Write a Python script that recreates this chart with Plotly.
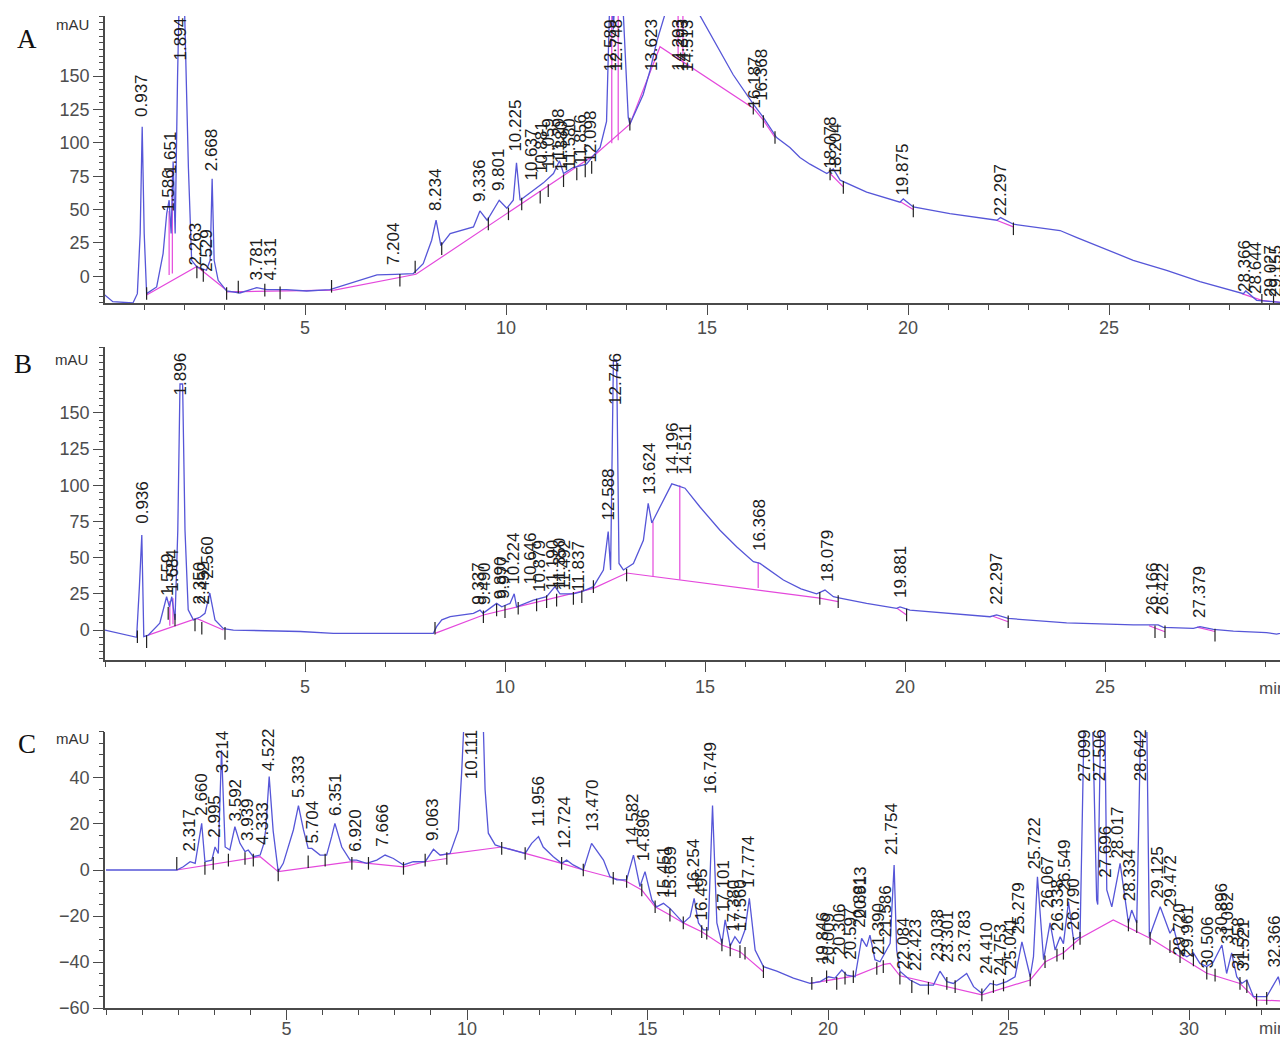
import plotly.graph_objects as go

# ---------------- Panel A ----------------
a_time = [0.02, 0.22, 0.72, 0.83, 0.90, 0.95, 1.00, 1.06, 1.31, 1.47, 1.56, 1.62, 1.67, 1.72, 1.77, 1.83, 1.90, 2.00,
          2.10, 2.18, 2.31, 2.43, 2.55, 2.64, 2.69, 2.74, 2.84, 3.05, 3.38, 3.80, 4.05, 4.54, 5.04, 5.62, 6.29, 6.79,
          7.24, 7.69, 7.94, 8.15, 8.26, 8.38, 8.61, 9.19, 9.35, 9.53, 9.83, 10.02, 10.18, 10.26, 10.35, 10.68, 10.93,
          11.18, 11.33, 11.43, 11.67, 12.00, 12.34, 12.50, 12.56, 12.60, 12.67, 12.75, 12.92, 13.04, 13.08, 13.41,
          13.58, 13.75, 13.95, 14.30, 14.83, 15.32, 15.65, 16.15, 16.40, 16.73, 17.06, 17.31, 17.56, 17.98, 18.14,
          18.31, 18.97, 19.80, 19.88, 20.13, 21.04, 22.21, 22.30, 22.62, 23.78, 24.20, 25.60, 26.43, 27.26, 28.34,
          28.40, 28.67, 29.09, 29.45]
a_mau = [-14, -19, -20, -13, 32, 112, 32, -13, -8, 17, 47, 57, 32, 86, 32, 150, 250, 205,
         81, 12, 7, 6, 4.5, 12, 73, 12, -3, -11, -12.5, -8.5, -10, -10, -11, -10, -4, 1,
         1.5, 2, 9.5, 27, 42, 23, 32, 37, 49, 42, 57, 51, 57, 85, 57, 64, 70,
         77, 86.5, 77, 81.5, 84, 96.5, 116, 195, 230, 185, 240, 195, 119, 114, 136,
         154, 176, 196, 260, 195, 169, 151, 129, 119, 104, 96.5, 89, 84, 77, 80.5,
         72, 63, 55.5, 58, 52, 47, 42, 44, 39, 34.3, 29, 12, 4.5, -4, -13,
         -11, -18, -19, -20]
a_base_time = [1.06, 2.31, 3.05, None, 1.62, 1.62, None, 1.70, 1.70, None,
               3.05, 5.73, 7.76, 12.25, 13.08, 13.83, 16.15, 16.40, 16.69, None,
               12.63, 12.63, None, 12.79, 12.79, None, 14.28, 14.28, None, 14.40, 14.40, None,
               18.06, 18.39, None, 19.80, 20.13, None, 22.20, 22.62, None, 28.30, 28.80, 29.09, 29.45]
a_base_mau = [-14, 7.4, -10.4, None, 1, 49, None, 2, 80, None,
              -11.6, -10.4, 1.5, 92, 114, 172, 126, 117, 104, None,
              99.6, 195, None, 102, 195, None, 162, 195, None, 160, 195, None,
              77, 67, None, 56, 50, None, 42, 37, None, -13, -18, -19, -20]
a_mark_time = [1.06, 2.31, 2.47, 3.05, 3.34, 4.00, 4.38, 5.66, 7.36, 7.74, 8.40, 9.56, 10.06, 10.39, 10.85,
               11.05, 11.43, 11.76, 11.97, 12.13, 13.08, 16.15, 16.40, 16.69, 18.06, 18.39, 20.13, 22.62,
               28.80, 29.09]
a_mark_mau = [-12.9, 3.2, 0.7, -12.9, -8, -10.4, -12.4, -7.5, -3, 7, 20.7, 39.3, 46.8, 54.2, 59.2,
              64.2, 71.6, 76.6, 79, 81.6, 114, 126, 116, 104, 76.6, 66.6, 49, 35.6,
              -18, -19]
a_labels = ["0.937", "1.586", "1.651", "1.894", "2.263", "2.529", "2.668", "3.781", "4.131", "7.204", "8.234",
            "9.336", "9.801", "10.225", "10.637", "10.881", "11.059", "11.298", "11.380", "11.580", "11.856",
            "12.098", "12.589", "12.748", "13.623", "14.293", "14.393", "14.513", "16.187", "16.368", "18.078",
            "18.204", "19.875", "22.297", "28.366", "28.644", "29.027", "29.155"]
a_label_mau = [118, 47, 75, 160, 7, 2, 77, -5, -5, 7, 47,
               54, 62, 92, 70, 76, 79, 86, 77, 79, 82,
               84, 152, 152, 152, 152, 152, 152, 124, 130, 79,
               74, 59, 44, -13, -15, -17, -17]

# ---------------- Panel B ----------------
b_time = [0.0, 0.79, 0.86, 0.92, 0.97, 1.08, 1.37, 1.54, 1.61, 1.67, 1.75, 1.82, 1.875, 1.94, 2.00, 2.08, 2.21,
          2.38, 2.50, 2.62, 2.75, 2.96, 3.21, 4.88, 5.71, 8.21, 8.29, 8.42, 8.63, 9.21, 9.375, 9.45, 9.79, 9.92,
          10.125, 10.23, 10.29, 10.71, 11.04, 11.25, 11.375, 11.71, 11.92, 12.21, 12.46, 12.58, 12.64, 12.71,
          12.79, 12.85, 12.96, 13.21, 13.46, 13.58, 13.67, 13.96, 14.17, 14.29, 14.50, 14.875, 15.375, 15.79,
          16.21, 16.375, 16.96, 17.40, 17.79, 18.00, 18.21, 18.375, 19.04, 19.79, 19.875, 20.125, 21.125,
          22.125, 22.29, 22.58, 24.04, 25.71, 26.33, 26.46, 27.21, 27.375, 27.71, 28.21, 29.04, 29.29, 29.575]
b_mau = [0, -5, 30, 65.6, -4.6, -3.5, 4.8, 23, 16, 23, 7, 69, 170, 170, 69, 14, 7,
         9, 11.5, 25.5, 7, 1, 0, -1, -2.3, -2.3, 2.3, 7, 9.2, 11.5, 13.8, 11.5, 18.4, 16,
         18.4, 25, 16, 20.7, 23, 30, 25, 25, 26.5, 30, 41.5, 68, 41.5, 186.6,
         186.6, 46, 41.5, 46, 62, 87.5, 74, 90, 101, 100, 98, 85, 69, 57.6,
         47.2, 46, 34.6, 28.5, 25, 27.6, 23, 22, 18.4, 15, 16, 13.8, 11.5,
         9.2, 10.4, 8, 5, 3.5, 3.5, 1.8, 1.1, 2.3, 0.5, -0.7, -1.8, -2.8, -1.1]
b_base_time = [1.08, 2.29, 2.96, None, 1.62, 1.62, None, 1.70, 1.70, None,
               8.25, 9.46, 12.21, 13.04, 17.87, 18.33, None,
               13.70, 13.70, None, 14.37, 14.37, None, 16.33, 16.33, None,
               19.80, 20.04, None, 22.20, 22.58, None, 26.10, 26.50, None, 27.30, 27.75]
b_base_mau = [-3.5, 8, 0, None, 3, 20, None, 4, 22, None,
              -2.3, 10.4, 28.8, 39.4, 22, 19.6, None,
              37, 75, None, 34.7, 100, None, 29, 47, None,
              15, 10.4, None, 9.5, 5.7, None, 3, -1.2, None, 2, -1]
b_mark_time = [0.81, 1.04, 1.58, 1.75, 2.25, 2.42, 3.00, 8.25, 9.46, 9.79, 10.00, 10.33, 10.79, 11.04,
               11.29, 11.71, 11.92, 12.21, 13.04, 17.87, 18.33, 20.04, 22.58, 26.25, 26.50, 27.75]
b_mark_mau = [-4.6, -8, 11.5, 6.9, 3.5, 1.2, -2.3, 1.2, 9.2, 13.8, 12.7, 15, 17.3, 19.6,
              20.7, 21.9, 23, 30, 38, 21.9, 19.6, 10.4, 5.7, -1.2, -1.2, -3.5]
b_labels = ["0.936", "1.559", "1.684", "1.896", "2.350", "2.452", "2.560", "9.337", "9.490", "9.890", "9.977",
            "10.224", "10.646", "10.879", "11.190", "11.350", "11.492", "11.837", "12.588", "12.746", "13.624",
            "14.196", "14.511", "16.368", "18.079", "19.881", "22.297", "26.166", "26.422", "27.379"]
b_label_mau = [72, 22, 25, 161, 16, 16, 34, 16, 16, 20, 20,
               30, 30, 25, 26, 27, 26, 25, 74, 154, 92,
               106, 106, 53, 32, 21, 16, 9, 9, 7]

# ---------------- Panel C ----------------
c_time = [0.0, 1.96, 2.14, 2.33, 2.47, 2.60, 2.65, 2.74, 2.93, 3.02, 3.11, 3.20, 3.30, 3.43, 3.57, 3.71, 3.85,
          3.94, 4.08, 4.27, 4.36, 4.42, 4.52, 4.63, 4.77, 4.91, 5.19, 5.33, 5.47, 5.60, 5.70, 5.93, 6.11, 6.25,
          6.34, 6.53, 6.76, 6.94, 7.22, 7.50, 7.73, 7.96, 8.24, 8.51, 8.84, 9.07, 9.25, 9.53, 9.76, 9.85, 9.90,
          10.11, 10.45, 10.50, 10.59, 10.78, 10.96, 11.28, 11.61, 11.79, 11.98, 12.11, 12.39, 12.62, 12.76,
          12.94, 13.22, 13.45, 13.59, 13.78, 13.96, 14.15, 14.42, 14.61, 14.79, 14.93, 15.12, 15.25, 15.44,
          15.62, 15.99, 16.18, 16.29, 16.41, 16.55, 16.68, 16.80, 16.92, 17.06, 17.15, 17.29, 17.42, 17.56,
          17.70, 17.82, 17.98, 18.21, 18.58, 19.04, 19.50, 19.78, 20.01, 20.19, 20.38, 20.52, 20.75, 20.93,
          21.07, 21.16, 21.30, 21.44, 21.58, 21.72, 21.83, 21.90, 21.99, 22.27, 22.55, 22.92, 23.10, 23.29,
          23.47, 23.84, 24.03, 24.26, 24.49, 24.67, 24.95, 25.18, 25.37, 25.60, 25.69, 25.80, 25.97, 26.15,
          26.29, 26.43, 26.52, 26.66, 26.80, 26.98, 27.09, 27.20, 27.33, 27.44, 27.47, 27.55, 27.60, 27.67,
          27.72, 27.86, 28.09, 28.32, 28.41, 28.55, 28.66, 28.75, 28.83, 28.90, 29.20, 29.47, 29.57, 29.75,
          29.94, 30.12, 30.30, 30.49, 30.67, 30.91, 31.04, 31.18, 31.32, 31.46, 31.60, 31.78, 32.15, 32.47,
          32.61, 32.74]
c_mau = [0, 0, 1.4, 3.6, 2.9, 14.5, 20.3, 3.6, 4.3, 10, 7.2, 52, 10, 8.7, 18.8, 11.6, 8,
         8.7, 5.8, 6.5, 10.9, 17, 40.6, 17, -0.7, 2.9, 17.4, 28, 17.4, 9.4, 9.4, 6.5, 6.5, 14.5,
         20.3, 10, 4.3, 4.3, 2.9, 4.3, 6.5, 5, 2.2, 3.6, 3.6, 9, 6.5, 7.2, 17.4, 42, 63,
         130, 63, 35, 16, 10.9, 10, 8.7, 7.2, 11.6, 14.5, 10, 5.8, 2.9, 4.3,
         2.2, 0, 11.6, 8.7, 4.3, -2.9, -4.3, -4.3, 6.5, -7.2, -0.7, -13, -16, -14.5,
         -16.7, -23, -20.3, -12.3, -23, -26, -26, 28, -23, -32, -21.7, -33, -29, -32,
         -26, -12.3, -34.8, -42, -44, -47, -49.3, -48.5, -46.4, -47, -43.5, -45.7, -46.4, -29.7,
         -33.3, -28.3, -39, -39.9, -36.2, -31.9, 2.2, -34.8, -44, -47.8, -50, -50, -44, -48.5,
         -49.3, -45, -50.7, -53.6, -49.3, -50, -48.5, -46.4, -31.2, -46.4, -37.7, -2.9, -39, -23,
         -34.8, -29, -32, -13.8, -30.4, -29, 63, 90, 63, -13, -15, 63, 90, 63,
         -8.7, -16, 2.9, -23, -17.4, -23, 63, 90, 63, -29, -16, -27.5, -25, -36,
         -37.7, -36, -40.6, -42, -40, -32.6, -45, -36, -46.4, -49.3, -47.8, -55, -55, -46.4,
         -55, -56.5]
c_base_time = [1.96, 4.27, 4.77, 6.81, 7.27, 8.24, 8.84, 9.44, None,
               9.25, 10.96, 11.61, 12.62, 13.22, 14.05, 14.42, 14.84, 15.21, 15.62, 15.99, 16.50, 17.06,
               17.56, 18.21, None,
               19.50, 20.75, 21.55, 21.72, 21.99, 24.26, 25.60, 26.01, 26.52, 26.98, 27.90, 28.92, 29.75,
               30.49, 31.41, 31.87, 32.74]
c_base_mau = [0, 5.8, -0.7, 3.6, 2.9, 1.4, 3.6, 5, None,
              6.5, 10, 7.2, 2.9, 0, -3.6, -5, -8.7, -16, -19.6, -23, -26.8, -32.6,
              -35.5, -44.2, None,
              -49.3, -46, -41, -40.6, -46, -54.3, -47.8, -40, -36, -29.7, -21.7, -29.7, -37.7,
              -44.9, -49.3, -56.5, -57]
c_mark_time = [1.96, 2.74, 2.97, 3.39, 3.85, 4.08, 4.77, 5.60, 6.07, 6.81, 7.27, 8.24, 8.84, 9.44, 10.96,
               11.61, 12.62, 13.22, 14.05, 14.42, 14.84, 15.21, 15.62, 15.99, 16.50, 16.64, 17.06, 17.29,
               17.56, 17.70, 18.21, 19.55, 19.96, 20.24, 20.47, 20.70, 21.35, 21.53, 21.99, 22.32, 22.78,
               23.29, 23.52, 24.26, 24.58, 24.86, 25.60, 26.01, 26.34, 26.52, 26.80, 26.98, 28.32, 28.55,
               28.92, 29.47, 29.75, 30.12, 30.49, 30.72, 31.41, 31.60, 31.87, 32.15]
c_mark_mau = [2.9, 0.7, 2.9, 4.3, 5, 4.3, -2.2, 3.6, 4.3, 2.9, 2.9, 0.7, 4.3, 5, 9.4,
              7.2, 2.9, 0, -3.6, -5, -8.7, -16, -19.6, -23, -26.8, -27.5, -32.6, -34.8,
              -35.5, -36.2, -44.2, -49.3, -46.4, -49.3, -47, -46.4, -42.8, -42, -47, -50.7, -51.4,
              -49.3, -50.7, -54.3, -50.7, -50, -47.8, -39.9, -37, -36.2, -31.9, -29.7, -23.9, -24.6,
              -29.7, -33.3, -37.7, -39.1, -44.9, -45.7, -49.3, -50.7, -56.5, -55.8]
c_labels = ["2.317", "2.660", "2.995", "3.214", "3.592", "3.939", "4.333", "4.522", "5.333", "5.704", "6.351",
            "6.920", "7.666", "9.063", "10.111", "11.956", "12.724", "13.470", "14.582", "14.896", "15.451",
            "15.659", "16.254", "16.495", "16.749", "17.101", "17.380", "17.560", "17.774", "19.846", "20.009",
            "20.306", "20.597", "20.881", "20.913", "21.390", "21.586", "21.754", "22.084", "22.423", "23.038",
            "23.301", "23.783", "24.410", "24.753", "25.041", "25.279", "25.722", "26.067", "26.338", "26.549",
            "26.790", "27.099", "27.506", "27.696", "28.017", "28.334", "28.642", "29.125", "29.472", "29.720",
            "29.961", "30.506", "30.896", "31.082", "31.358", "31.521", "32.366"]
c_label_mau = [7.2, 22.5, 13, 41, 20.3, 11.6, 10, 42, 30.4, 10.9, 22.5,
               7.2, 9.4, 11.6, 38.4, 18, 8.7, 16, 10, 2.9, -13,
               -13, -10, -23, 32, -19, -27.5, -27.5, -8.7, -42, -42,
               -38, -40, -26, -22, -37.7, -30, 5.8, -44, -45, -40.6,
               -41, -41, -46, -47, -44, -29, -0.7, -17.4, -27.5, -10,
               -27, 37.7, 37.7, -4.3, 4.3, -14.5, 37.7, -13, -17, -38,
               -39, -43.5, -29, -33, -44, -45, -43.5]

# ---------------- styling ----------------
TRACE_COLOR = "rgb(86,86,216)"
BASE_COLOR = "rgb(228,72,220)"
AXIS_COLOR = "#4a4a4a"
FONT = "Liberation Sans, Arial, sans-serif"
W, H, ML = 1280, 1030, 97          # page body adds an 8px offset
PW = W - ML

panels = [
    dict(t=a_time, y=a_mau, bt=a_base_time, by=a_base_mau, mt=a_mark_time, my=a_mark_mau,
         lab=a_labels, ly=a_label_mau, xr=[0.025, 29.45], yr=[-20, 195],
         dom=[0.7136, 0.9922], ytv=[0, 25, 50, 75, 100, 125, 150], letter="A", so=-2),
    dict(t=b_time, y=b_mau, bt=b_base_time, by=b_base_mau, mt=b_mark_time, my=b_mark_mau,
         lab=b_labels, ly=b_label_mau, xr=[0.0, 29.575], yr=[-20.7, 195.6],
         dom=[0.3670, 0.6709], ytv=[0, 25, 50, 75, 100, 125, 150], letter="B", so=0),
    dict(t=c_time, y=c_mau, bt=c_base_time, by=c_base_mau, mt=c_mark_time, my=c_mark_mau,
         lab=c_labels, ly=c_label_mau, xr=[-0.028, 32.74], yr=[-60, 60],
         dom=[0.0291, 0.2971], ytv=[-60, -40, -20, 0, 20, 40], letter="C", so=-6),
]

fig = go.Figure()
annotations = []
layout_axes = {}
letter_pos = [(19, 31), (15, 356), (19, 736)]
mau_pos = [(64, 17), (63, 352), (64, 730)]
min_y = [None, 680, 1020]

for i, p in enumerate(panels):
    n = "" if i == 0 else str(i + 1)
    m = str(i + 4)
    xref, yref = "x" + n, "y" + n
    fig.add_trace(go.Scatter(x=p["bt"], y=p["by"], mode="lines", xaxis=xref, yaxis=yref,
                             line=dict(color=BASE_COLOR, width=1.2), connectgaps=False,
                             showlegend=False, hoverinfo="skip"))
    fig.add_trace(go.Scatter(x=p["t"], y=p["y"], mode="lines", xaxis=xref, yaxis=yref,
                             line=dict(color=TRACE_COLOR, width=1.3), showlegend=False))
    fig.add_trace(go.Scatter(x=p["mt"], y=p["my"], mode="markers", xaxis=xref, yaxis=yref,
                             marker=dict(symbol="line-ns", size=9,
                                         line=dict(color="#222222", width=1.2)),
                             showlegend=False, hoverinfo="skip"))
    # empty traces so the minor-tick overlay axes are drawn
    fig.add_trace(go.Scatter(x=[], y=[], xaxis="x" + m, yaxis=yref, showlegend=False))
    fig.add_trace(go.Scatter(x=[], y=[], xaxis=xref, yaxis="y" + m, showlegend=False))
    for lab, ly in zip(p["lab"], p["ly"]):
        annotations.append(dict(x=float(lab), y=ly, xref=xref, yref=yref, text=lab,
                                showarrow=False, textangle=-90, xanchor="center", yanchor="bottom",
                                font=dict(family=FONT, size=17, color="#1c1c1c")))
    common = dict(showgrid=False, zeroline=False, automargin=False, fixedrange=True)
    layout_axes["xaxis" + n] = dict(
        domain=[0, 1], range=p["xr"], anchor=yref, showline=True, linecolor=AXIS_COLOR, linewidth=1.5,
        ticks="outside", ticklen=10, tickwidth=1.3, tickcolor=AXIS_COLOR,
        tickmode="array", tickvals=[5, 10, 15, 20, 25, 30], ticklabelstandoff=p["so"],
        tickfont=dict(family=FONT, size=18, color="#4d4d4d"), **common)
    layout_axes["yaxis" + n] = dict(
        domain=p["dom"], range=p["yr"], anchor=xref, showline=True, linecolor=AXIS_COLOR, linewidth=1.5,
        ticks="outside", ticklen=10, tickwidth=1.3, tickcolor=AXIS_COLOR,
        tickmode="array", tickvals=p["ytv"],
        tickfont=dict(family=FONT, size=18, color="#4d4d4d"), **common)
    # minor tick overlays (every 1 min / every 5 mAU)
    layout_axes["xaxis" + m] = dict(
        overlaying=xref, anchor=yref, side="bottom", range=p["xr"], showline=False,
        ticks="outside", ticklen=6, tickwidth=1.2, tickcolor=AXIS_COLOR,
        tickmode="linear", tick0=0, dtick=1, showticklabels=False, **common)
    layout_axes["yaxis" + m] = dict(
        overlaying=yref, anchor=xref, side="left", range=p["yr"], showline=False,
        ticks="outside", ticklen=5, tickwidth=1.1, tickcolor=AXIS_COLOR,
        tickmode="linear", tick0=0, dtick=5, showticklabels=False, **common)
    lx, ly_ = letter_pos[i]
    annotations.append(dict(x=(lx - ML) / PW, y=1 - ly_ / H, xref="paper", yref="paper",
                            text=p["letter"], showarrow=False, xanchor="center", yanchor="middle",
                            font=dict(family="Liberation Serif, Times New Roman, serif", size=27,
                                      color="#111111")))
    mx, my_ = mau_pos[i]
    annotations.append(dict(x=(mx - ML) / PW, y=1 - my_ / H, xref="paper", yref="paper",
                            text="mAU", showarrow=False, xanchor="center", yanchor="middle",
                            font=dict(family=FONT, size=15, color="#333333")))
    if min_y[i] is not None:
        annotations.append(dict(x=1.0, y=1 - min_y[i] / H, xref="paper", yref="paper",
                                text="min", showarrow=False, xanchor="right", yanchor="middle",
                                font=dict(family=FONT, size=17, color="#4d4d4d")))

fig.update_layout(
    width=W, height=H,
    margin=dict(l=ML, r=0, t=0, b=0, pad=0, autoexpand=False),
    paper_bgcolor="white", plot_bgcolor="white",
    annotations=annotations,
    **layout_axes,
)

fig.write_html("out.html")
